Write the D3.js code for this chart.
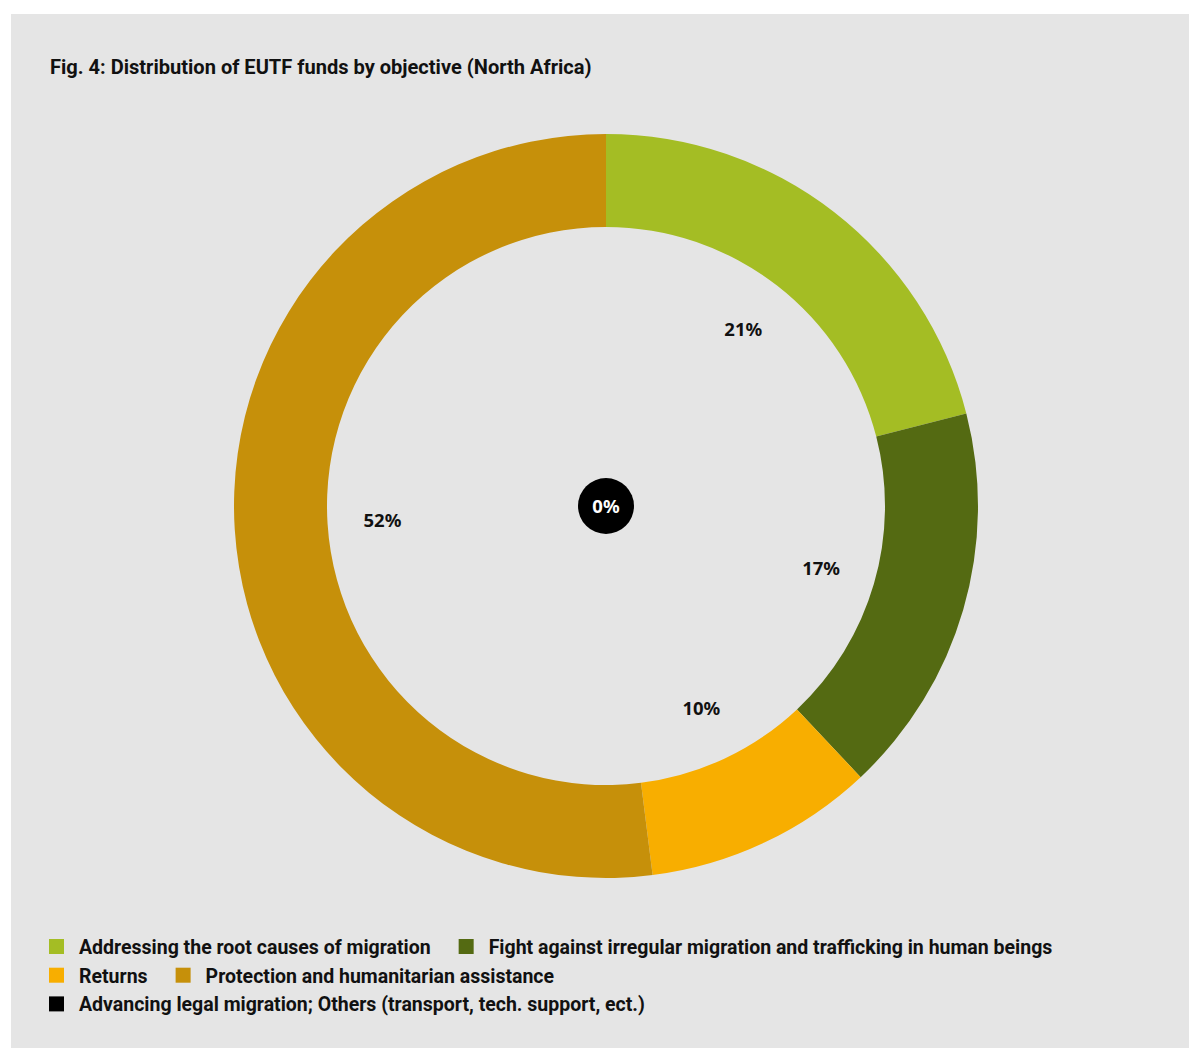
<!DOCTYPE html>
<html>
<head>
<meta charset="utf-8">
<script src="https://cdn.jsdelivr.net/npm/d3@7"></script>
<style>
  html, body { margin: 0; padding: 0; background: #ffffff; }
  svg { display: block; }
  .cond { font-family: "Roboto", "Liberation Sans", sans-serif; font-weight: bold; }
  .pct { font-family: "Noto Sans", "Open Sans", sans-serif; font-weight: bold; }
</style>
</head>
<body>
<script>
// Share of EUTF funds per objective, North Africa (percent)
const categories = [
  "Addressing the root causes of migration",
  "Fight against irregular migration and trafficking in human beings",
  "Returns",
  "Protection and humanitarian assistance",
  "Advancing legal migration; Others (transport, tech. support, ect.)"
];
const shares = [21, 17, 10, 52, 0];
const colors = ["#a4bd24", "#546a12", "#f8ae00", "#c6900a", "#000000"];
const title = "Fig. 4: Distribution of EUTF funds by objective (North Africa)";

const W = 1189, H = 1048;
const svg = d3.select("body").append("svg").attr("width", W).attr("height", H);

// panel
svg.append("rect").attr("x", 11).attr("y", 14).attr("width", W - 11).attr("height", H - 14)
  .attr("fill", "#e5e5e5");

// condensed lettering: natural text squeezed horizontally to a set width
const titleWidth = 542, legendRefWidth = 352;
const titleText = svg.append("text").attr("class", "cond")
  .attr("font-size", 20).attr("fill", "#111")
  .text(title);
const titleSqueeze = titleWidth / titleText.node().getComputedTextLength();
titleText.attr("transform", `translate(50,74) scale(${titleSqueeze},1)`);

// donut
const cx = 606, cy = 506, outerR = 372, innerR = 279, labelR = 224;
const g = svg.append("g").attr("transform", `translate(${cx},${cy})`);

const data = categories.map((c, i) => ({ name: c, value: shares[i], color: colors[i] }));
const pie = d3.pie().value(d => d.value).sort(null);
const arcs = pie(data);
const arc = d3.arc().innerRadius(innerR).outerRadius(outerR);
const labelArc = d3.arc().innerRadius(labelR).outerRadius(labelR);

g.selectAll("path.slice").data(arcs.filter(a => a.data.value > 0)).join("path")
  .attr("class", "slice")
  .attr("d", arc)
  .attr("fill", d => d.data.color);

g.selectAll("text.lbl").data(arcs.filter(a => a.data.value > 0)).join("text")
  .attr("class", "lbl pct")
  .attr("transform", d => `translate(${labelArc.centroid(d)})`)
  .attr("text-anchor", "middle").attr("dy", "0.36em")
  .attr("font-size", 18.5).attr("fill", "#111")
  .text(d => d.data.value + "%");

// zero-valued objective shown as a badge in the centre
const zero = arcs.filter(a => a.data.value === 0);
const badge = g.selectAll("g.zero").data(zero).join("g").attr("class", "zero");
badge.append("circle").attr("r", 28).attr("fill", d => d.data.color);
badge.append("text").attr("class", "pct")
  .attr("text-anchor", "middle").attr("dy", "0.36em")
  .attr("font-size", 18.5).attr("fill", "#fff")
  .text(d => d.data.value + "%");

// legend, flowing left to right and wrapping
const legendX = 49, legendTop = 939, rowH = 28.7, maxRight = 1110, sw = 15, gapText = 15, gapItem = 28;
const legend = svg.append("g");
const probe = legend.append("text").attr("class", "cond").attr("font-size", 21).text(categories[0]);
const legendSqueeze = legendRefWidth / probe.node().getComputedTextLength();
probe.remove();

let x = legendX, row = 0;
data.forEach(d => {
  const item = legend.append("g");
  const t = item.append("text").attr("class", "cond")
    .attr("transform", `translate(${sw + gapText},${sw}) scale(${legendSqueeze},1)`)
    .attr("font-size", 21).attr("fill", "#111").text(d.name);
  const w = sw + gapText + t.node().getComputedTextLength() * legendSqueeze;
  if (x > legendX && x + w > maxRight) { x = legendX; row++; }
  item.attr("transform", `translate(${x},${legendTop + row * rowH})`);
  item.insert("rect", "text").attr("width", sw).attr("height", sw).attr("fill", d.color);
  x += w + gapItem;
});
</script>
</body>
</html>
